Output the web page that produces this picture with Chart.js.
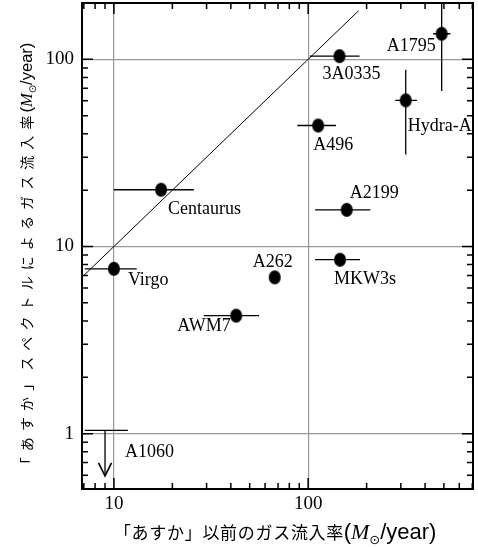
<!DOCTYPE html>
<html><head><meta charset="utf-8">
<script src="https://cdn.jsdelivr.net/npm/chart.js@4"></script>
<style>html,body{margin:0;padding:0;background:#fff}#wrap{width:478px;height:547px}</style>
</head><body>
<div id="wrap"><canvas id="c" width="478" height="547"></canvas></div>
<script>
/* ===== data ===== */
const names=['Virgo','Centaurus','3A0335','A1795','Hydra-A','A496','A2199','MKW3s','A262','AWM7'];
const xVal=[10,17.5,145,487,318,112.6,158,146,67.3,42.6];
const yVal=[7.6,20.1,104,137,60.4,44.3,15.7,8.5,6.84,4.27];
const xLo=[7.08,10,102,440,281,88,108.6,108.6,null,29];
const xHi=[13.1,25.8,184,540,363,139,209,185,null,55.9];
const yLo=[null,null,null,67.8,31,null,null,null,null,null];
const yHi=[null,null,null,260,88,null,null,null,null,null];
/* A1060 upper limit */
const ulName='A1060', ulX=9, ulY=1.04, ulXLo=7.08, ulXHi=11.8, ulTip=0.594;
/* y = x line */
const lineX=[7,182], lineY=[7,182];
/* ticks */
const xMajor=[10,100], yMajor=[1,10,100];
const xMinor=[7,8,9,20,30,40,50,60,70,80,90,200,300,400,500,600,700];
const yMinor=[0.6,0.7,0.8,0.9,2,3,4,5,6,7,8,9,20,30,40,50,60,70,80,90];
const xRange=[6.85,706], yRange=[0.506,200];
const xTitle='「あすか」以前のガス流入率', yTitle='「あすか」スペクトルによるガス流入率';

/* label offsets (px, from the point) */
const labDx=[14,7,-17,-55,2,-5,3,-6,-22,-59], labDy=[10,18,17,11,25,18,-18,18,-16,9];
const ulDx=20, ulDy=21;

/* ---------- marker ---------- */
const dot=document.createElement('canvas'); dot.width=14; dot.height=16;
{const d=dot.getContext('2d'); d.fillStyle='#000'; d.beginPath(); d.ellipse(7,8,6,7,0,0,2*Math.PI); d.fill();}

const SERIF='"Liberation Serif","Times New Roman",serif';
const SANS='"Liberation Sans",Arial,sans-serif';
const CJK='"Noto Sans CJK JP",sans-serif';

/* ---------- rich text ---------- */
function rich(ctx,segs,cx,cy,rot){
  ctx.save(); ctx.translate(cx,cy); if(rot) ctx.rotate(rot);
  let w=0; segs.forEach(s=>{ctx.font=s.f; s.w=s.p?s.p*[...s.t].length:ctx.measureText(s.t).width; w+=s.w;});
  let x=-w/2; ctx.fillStyle='#000'; ctx.textBaseline='alphabetic'; ctx.textAlign='left';
  segs.forEach(s=>{ctx.font=s.f;
    if(s.p) [...s.t].forEach((ch,i)=>{const cw=ctx.measureText(ch).width; ctx.fillText(ch,x+i*s.p+(s.p-cw)/2,s.dy||0);});
    else ctx.fillText(s.t,x,s.dy||0);
    x+=s.w;});
  ctx.restore();
}

/* ---------- plugin ---------- */
const deco={id:'deco',
  beforeDatasetsDraw(c){
    const {ctx,chartArea:a,scales:{x,y}}=c;
    ctx.save(); ctx.beginPath(); ctx.rect(a.left,a.top,a.right-a.left,a.bottom-a.top); ctx.clip();
    ctx.strokeStyle='#000'; ctx.lineWidth=1.3; ctx.beginPath();
    names.forEach((_,i)=>{
      const px=x.getPixelForValue(xVal[i]), py=y.getPixelForValue(yVal[i]);
      if(xLo[i]!=null){ctx.moveTo(x.getPixelForValue(xLo[i]),py); ctx.lineTo(x.getPixelForValue(xHi[i]),py);}
      if(yLo[i]!=null){ctx.moveTo(px,y.getPixelForValue(yLo[i])); ctx.lineTo(px,y.getPixelForValue(yHi[i]));}
    });
    // upper limit
    const ax=x.getPixelForValue(ulX), ay=y.getPixelForValue(ulY), at=y.getPixelForValue(ulTip);
    ctx.moveTo(x.getPixelForValue(ulXLo),ay); ctx.lineTo(x.getPixelForValue(ulXHi),ay);
    ctx.moveTo(ax,ay); ctx.lineTo(ax,at);
    ctx.stroke();
    ctx.lineWidth=1.6; ctx.beginPath();
    ctx.moveTo(ax-6.5,at-13); ctx.lineTo(ax,at); ctx.lineTo(ax+6.5,at-13); ctx.stroke();
    ctx.restore();
  },
  afterDatasetsDraw(c){
    const {ctx,chartArea:a,scales:{x,y}}=c;
    ctx.save();
    // labels
    ctx.font='18px '+SERIF; ctx.fillStyle='#000'; ctx.textAlign='left'; ctx.textBaseline='alphabetic';
    names.forEach((n,i)=>ctx.fillText(n,x.getPixelForValue(xVal[i])+labDx[i],y.getPixelForValue(yVal[i])+labDy[i]+6));
    ctx.fillText(ulName,x.getPixelForValue(ulX)+ulDx,y.getPixelForValue(ulY)+ulDy+6);
    // tick labels
    ctx.font='19px '+SERIF; ctx.textBaseline='middle';
    ctx.textAlign='right'; yMajor.forEach(v=>ctx.fillText(String(v),a.left-8,y.getPixelForValue(v)));
    ctx.textAlign='center'; xMajor.forEach(v=>ctx.fillText(String(v),x.getPixelForValue(v),a.bottom+15));
    // frame + inward ticks
    ctx.strokeStyle='#000'; ctx.lineWidth=2;
    ctx.strokeRect(a.left,a.top,a.right-a.left,a.bottom-a.top);
    ctx.lineWidth=1.5; ctx.beginPath();
    const tx=(v,len)=>{const p=x.getPixelForValue(v); ctx.moveTo(p,a.top); ctx.lineTo(p,a.top+len); ctx.moveTo(p,a.bottom); ctx.lineTo(p,a.bottom-len);};
    const ty=(v,len)=>{const p=y.getPixelForValue(v); ctx.moveTo(a.left,p); ctx.lineTo(a.left+len,p); ctx.moveTo(a.right,p); ctx.lineTo(a.right-len,p);};
    xMajor.forEach(v=>tx(v,11)); xMinor.forEach(v=>tx(v,6));
    yMajor.forEach(v=>ty(v,11)); yMinor.forEach(v=>ty(v,6));
    ctx.stroke();
    ctx.restore();
    // axis titles
    rich(ctx,[{t:xTitle,f:'17px '+CJK,p:17.7},{t:'(',f:'22px '+SANS},{t:'M',f:'italic 22px '+SERIF},
      {t:'⊙',f:'13px "DejaVu Sans"',dy:5},{t:'/year)',f:'22px '+SANS}],275,538.5,0);
    rich(ctx,[{t:yTitle,f:'14px '+CJK,p:20.1},{t:'(',f:'16.5px '+SANS},{t:'M',f:'italic 16.5px '+SERIF},
      {t:'⊙',f:'10px "DejaVu Sans"',dy:4},{t:'/year)',f:'16.5px '+SANS}],32.3,258.5,-Math.PI/2);
  }
};

const tickSet=(maj,min)=>[...maj,...min].sort((p,q)=>p-q).map(v=>({value:v}));
const gridCol=maj=>ctx=>maj.includes(ctx.tick&&ctx.tick.value)?'#999':'rgba(0,0,0,0)';

new Chart(document.getElementById('c'),{
  type:'scatter',
  data:{datasets:[
    {data:names.map((_,i)=>({x:xVal[i],y:yVal[i]})),pointStyle:dot,pointRadius:7,pointHoverRadius:7},
    {data:lineX.map((v,i)=>({x:v,y:lineY[i]})),showLine:true,borderColor:'#000',borderWidth:1,pointRadius:0}
  ]},
  options:{
    responsive:false,animation:false,devicePixelRatio:1,
    layout:{autoPadding:false,padding:{top:3,right:5,left:0,bottom:0}},
    plugins:{legend:{display:false},tooltip:{enabled:false}},
    scales:{
      x:{type:'logarithmic',min:xRange[0],max:xRange[1],
        afterBuildTicks:ax=>{ax.ticks=tickSet(xMajor,xMinor);},
        afterFit:ax=>{ax.height=58;},
        grid:{color:gridCol(xMajor),lineWidth:1.2,drawTicks:false},border:{display:false},
        ticks:{display:false}},
      y:{type:'logarithmic',min:yRange[0],max:yRange[1],
        afterBuildTicks:ax=>{ax.ticks=tickSet(yMajor,yMinor);},
        afterFit:ax=>{ax.width=82;},
        grid:{color:gridCol(yMajor),lineWidth:1.2,drawTicks:false},border:{display:false},
        ticks:{display:false}}
    }
  },
  plugins:[deco]
});
</script>
</body></html>
